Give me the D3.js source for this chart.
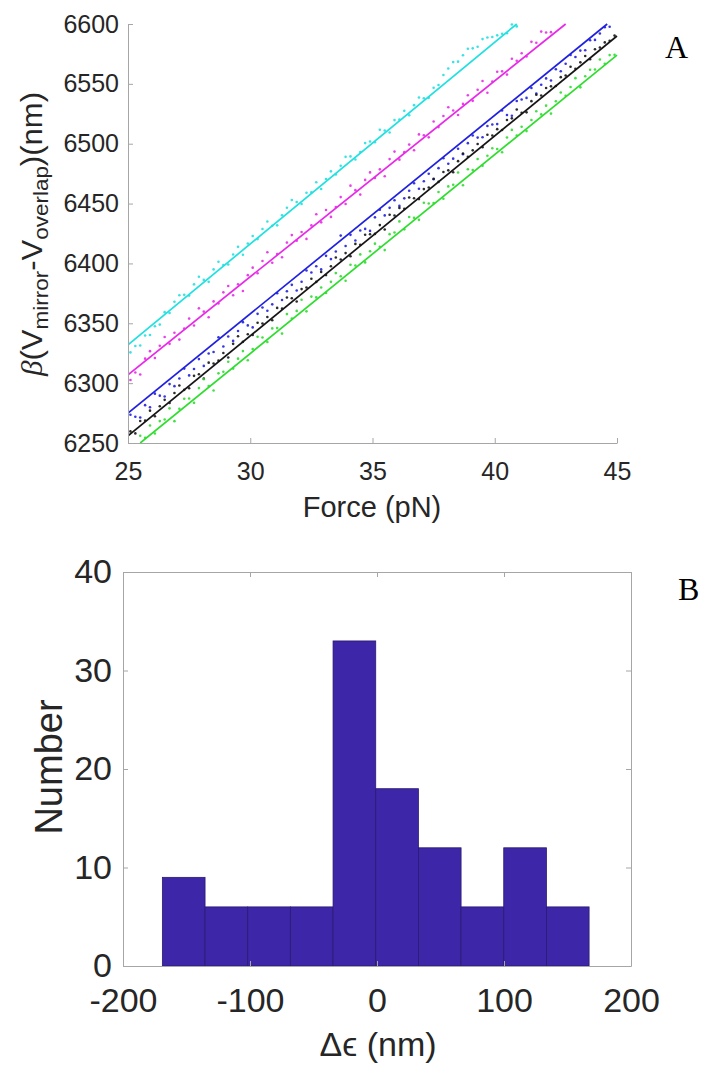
<!DOCTYPE html>
<html>
<head>
<meta charset="utf-8">
<script src="https://cdn.jsdelivr.net/npm/d3@7"></script>
<style>
  body { margin: 0; background: #fff; }
  svg { display: block; }
  .axis text { fill: #262626; font-family: "Liberation Sans", Arial, sans-serif; }
  .axis path, .axis line { stroke: #a6a6a6; }
</style>
</head>
<body>
<svg id="fig" width="703" height="1067"></svg>
<script>
(function() {

  // ---- Panel A: fitted lines with readings ----

  // Series names and colours.
  var seriesNames = ["cyan", "magenta", "blue", "black", "green"];
  var seriesColours = ["#22e0e0", "#e82ae8", "#2020e0", "#151515", "#2edd2e"];

  // Fitted line end points, [force, value].
  var fitStart = [[25, 6332], [25, 6307], [25, 6275], [25, 6256], [25.5, 6250]];
  var fitEnd   = [[40.9, 6600], [42.9, 6600], [44.6, 6600], [45, 6590], [45, 6574]];

  // Force of each reading (pN).
  var forces = [
    25.1, 25.3, 25.5, 25.7, 25.9, 26.1, 26.3, 26.5, 26.7, 26.9,
    27.1, 27.3, 27.5, 27.7, 27.9, 28.1, 28.3, 28.5, 28.7, 28.9,
    29.1, 29.3, 29.5, 29.7, 29.9, 30.1, 30.3, 30.5, 30.7, 30.9,
    31.1, 31.3, 31.5, 31.7, 31.9, 32.1, 32.3, 32.5, 32.7, 32.9,
    33.1, 33.3, 33.5, 33.7, 33.9, 34.1, 34.3, 34.5, 34.7, 34.9,
    35.1, 35.3, 35.5, 35.7, 35.9, 36.1, 36.3, 36.5, 36.7, 36.9,
    37.1, 37.3, 37.5, 37.7, 37.9, 38.1, 38.3, 38.5, 38.7, 38.9,
    39.1, 39.3, 39.5, 39.7, 39.9, 40.1, 40.3, 40.5, 40.7, 40.9,
    41.1, 41.3, 41.5, 41.7, 41.9, 42.1, 42.3, 42.5, 42.7, 42.9,
    43.1, 43.3, 43.5, 43.7, 43.9, 44.1, 44.3, 44.5, 44.7, 44.9
  ];

  // Offset of each reading from its fitted line (nm).
  var offCyan = [
    -8, -6, -9, -4, -7, -3, -5, 2, -2, 4,
    6, 3, -1, 5, 8, 2, -3, 4, 7, 1,
    -2, 3, 6, -4, 2, 5, -1, 4, 7, 0,
    -3, 2, 5, 8, 3, -2, 4, 1, 6, -3,
    2, 5, -1, 3, 7, 4, -2, 1, 5, 3,
    -1, 6, 2, -3, 4, 1, 5, -2, 3, 6,
    2, -1, 4, 3, 8, 10, 12, 9, 11, 13,
    10, 8, 11, 9, 6, 4, 2, -1, 3, -2,
    0, -3
  ];
  var offMagenta = [
    -6, -3, -8, 2, 5, -4, 3, 7, -2, 4,
    -5, 1, 6, -3, 8, 2, -6, 4, -1, 5,
    7, -4, 2, -7, 3, 6, -2, 5, 9, -3,
    1, -5, 4, 7, -1, 3, -6, 2, 8, -2,
    5, -4, 1, 6, -3, 9, 2, -5, 4, 7,
    -1, 3, -6, 5, 8, -2, 1, 4, -4, 6,
    2, -3, 7, -1, 5, 9, 3, -4, 2, 6,
    -2, 4, 8, -5, 1, 6, 3, -3, 7, 2,
    5, -1, 8, 4, 10, 6, 3, 9, 7, 5,
    4, 8, 6
  ];
  var offBlue = [
    -3, -8, -12, -5, -10, -2, -7, -11, -4, -9,
    -6, -1, -10, -8, -3, -12, -5, -7, 2, -9,
    -4, -11, -6, -2, -8, -13, -5, -3, -9, -7,
    -1, -10, -6, -4, -12, -8, -2, -7, -5, -11,
    -3, -9, -6, 4, -8, -2, -10, -5, -7, -12,
    -4, -1, -9, -6, -3, -11, -8, -5, -2, -10,
    -7, -4, -12, -6, -1, -9, -8, -3, -11, -5,
    -2, -7, -10, -4, -6, -9, -1, -8, -12, -3,
    -5, -7, -2, -10, -6, -4, -9, -3, -8, -5,
    -1, -6, -4, -7, -2, -5, -3, -1, -4, -2
  ];
  var offBlack = [
    2, -3, 4, 1, 6, -2, 3, 5, -1, 4,
    7, 0, -2, 5, 3, -4, 6, 2, 1, 4,
    -3, 5, 8, 0, 3, -1, 6, 2, 4, -2,
    5, 1, 7, 3, -3, 4, 2, 6, 0, 5,
    -1, 3, 7, 2, 4, -2, 5, 1, 6, 3,
    0, 4, -3, 6, 2, 5, 1, 7, 3, -1,
    4, 2, 6, 0, 5, 3, -2, 4, 7, 1,
    3, 5, -1, 6, 2, 4, 0, 5, 3, 7,
    1, -2, 4, 6, 2, 5, 3, 0, 4, 2,
    6, 1, 3, 5, -1, 4, 2, 3, 1, 2
  ];
  var offGreen = [
    3, -4, 6, 1, 8, -2, 5, 3, 9, -5,
    2, 7, 4, -3, 6, 10, 1, -6, 5, 3,
    8, -1, 4, 7, -4, 2, 9, 5, -2, 6,
    3, -5, 8, 1, 4, 10, -3, 6, 2, 7,
    -1, 5, 9, 3, -4, 6, 2, 8, -2, 4,
    7, 1, -5, 5, 3, 9, -1, 6, 2, -3,
    8, 4, 1, 7, -2, 5, 3, 10, -4, 6,
    2, 8, -1, 4, 7, 3, -3, 6, 9, 1,
    5, -2, 4, 8, 2, 6, -4, 3, 7, 1,
    5, 9, -2, 4, 6, 3, 8, 1, 5, 2
  ];
  var offsets = [offCyan, offMagenta, offBlue, offBlack, offGreen];

  // Axis ticks.
  var forceTicks = [25, 30, 35, 40, 45];
  var valueTicks = [6250, 6300, 6350, 6400, 6450, 6500, 6550, 6600];

  // ---- Panel B: histogram ----
  var binEdges = [-169, -135.4, -101.8, -68.2, -34.6, -1, 32.6, 66.2, 99.8, 133.4, 167];
  var counts = [9, 6, 6, 6, 33, 18, 12, 6, 12, 6];
  var deltaTicks = [-200, -100, 0, 100, 200];
  var countTicks = [0, 10, 20, 30, 40];

  var svg = d3.select("#fig");
  var sans = "'Liberation Sans', Arial, sans-serif";
  var serif = "'Liberation Serif', 'Times New Roman', serif";
  var plain = function(d) { return String(d); };

  // Panel A scales.
  var xA = d3.scaleLinear().domain([25, 45]).range([128, 617]);
  var yA = d3.scaleLinear().domain([6250, 6600]).range([443, 24]);

  svg.append("clipPath").attr("id", "clipA")
    .append("rect")
    .attr("x", xA(25)).attr("y", yA(6600) - 1)
    .attr("width", xA(45) - xA(25) + 3).attr("height", yA(6250) - yA(6600) + 1);

  var plotA = svg.append("g").attr("clip-path", "url(#clipA)");

  seriesNames.forEach(function(name, i) {
    var fit = d3.scaleLinear()
      .domain([fitStart[i][0], fitEnd[i][0]])
      .range([fitStart[i][1], fitEnd[i][1]]);

    var pts = offsets[i].map(function(o, k) {
      return { f: forces[k], v: fit(forces[k]) + o };
    });

    plotA.selectAll(".dot-" + name)
      .data(pts)
      .enter()
      .append("circle")
      .attr("class", "dot-" + name)
      .attr("cx", function(d) { return xA(d.f); })
      .attr("cy", function(d) { return yA(d.v); })
      .attr("r", 1.3)
      .attr("fill", seriesColours[i])
      .attr("opacity", 0.9);

    plotA.append("line")
      .attr("x1", xA(fitStart[i][0])).attr("y1", yA(fitStart[i][1]))
      .attr("x2", xA(fitEnd[i][0])).attr("y2", yA(fitEnd[i][1]))
      .attr("stroke", seriesColours[i])
      .attr("stroke-width", 1.7);
  });

  svg.append("g")
    .attr("class", "axis")
    .attr("transform", "translate(0," + yA(6250) + ")")
    .call(d3.axisBottom(xA).tickValues(forceTicks).tickFormat(plain)
      .tickSizeInner(-5).tickSizeOuter(0).tickPadding(19))
    .call(function(g) { g.selectAll("text").attr("font-size", 25); });

  svg.append("g")
    .attr("class", "axis")
    .attr("transform", "translate(" + xA(25) + ",0)")
    .call(d3.axisLeft(yA).tickValues(valueTicks).tickFormat(plain)
      .tickSizeInner(-5).tickSizeOuter(0).tickPadding(9))
    .call(function(g) { g.selectAll("text").attr("font-size", 25); });

  svg.append("text")
    .attr("x", 372).attr("y", 517)
    .attr("text-anchor", "middle")
    .attr("font-family", sans).attr("font-size", 29).attr("fill", "#262626")
    .text("Force (pN)");

  // Rotated y label, squeezed along its length as in the figure.
  var ylab = svg.append("text")
    .attr("transform", "translate(42,234) rotate(-90)")
    .attr("text-anchor", "middle")
    .attr("textLength", 284)
    .attr("lengthAdjust", "spacingAndGlyphs")
    .attr("font-family", sans).attr("font-size", 29).attr("fill", "#262626");
  ylab.append("tspan").attr("font-family", serif).attr("font-style", "italic").text("β");
  ylab.append("tspan").text("(V");
  ylab.append("tspan").attr("font-size", 21).attr("dy", 6).text("mirror");
  ylab.append("tspan").attr("dy", -6).text("-V");
  ylab.append("tspan").attr("font-size", 21).attr("dy", 6).text("overlap");
  ylab.append("tspan").attr("dy", -6).text(")(nm)");

  svg.append("text")
    .attr("x", 665).attr("y", 58)
    .attr("font-family", serif).attr("font-size", 32).attr("fill", "#000")
    .text("A");

  // Panel B scales.
  var xB = d3.scaleLinear().domain([-200, 200]).range([123, 631]);
  var yB = d3.scaleLinear().domain([0, 40]).range([966, 572]);

  var bins = counts.map(function(c, i) {
    return { x0: binEdges[i], x1: binEdges[i + 1], n: c };
  });

  svg.append("g").selectAll("rect")
    .data(bins)
    .enter()
    .append("rect")
    .attr("x", function(d) { return xB(d.x0); })
    .attr("y", function(d) { return yB(d.n); })
    .attr("width", function(d) { return xB(d.x1) - xB(d.x0); })
    .attr("height", function(d) { return yB(0) - yB(d.n); })
    .attr("fill", "#3e26a8")
    .attr("stroke", "#2a1a70")
    .attr("stroke-width", 0.8);

  svg.append("g")
    .attr("class", "axis")
    .attr("transform", "translate(0," + yB(0) + ")")
    .call(d3.axisBottom(xB).tickValues(deltaTicks).tickFormat(plain)
      .tickSizeInner(-5).tickSizeOuter(0).tickPadding(22))
    .call(function(g) { g.selectAll("text").attr("font-size", 34); });

  svg.append("g")
    .attr("class", "axis")
    .attr("transform", "translate(0," + yB(40) + ")")
    .call(d3.axisTop(xB).tickValues(deltaTicks).tickSizeInner(-5).tickSizeOuter(0).tickFormat(""));

  svg.append("g")
    .attr("class", "axis")
    .attr("transform", "translate(" + xB(-200) + ",0)")
    .call(d3.axisLeft(yB).tickValues(countTicks).tickFormat(plain)
      .tickSizeInner(-5).tickSizeOuter(0).tickPadding(11))
    .call(function(g) { g.selectAll("text").attr("font-size", 34); });

  svg.append("g")
    .attr("class", "axis")
    .attr("transform", "translate(" + xB(200) + ",0)")
    .call(d3.axisRight(yB).tickValues(countTicks).tickSizeInner(-5).tickSizeOuter(0).tickFormat(""));

  svg.append("text")
    .attr("transform", "translate(62,767) rotate(-90)")
    .attr("text-anchor", "middle")
    .attr("font-family", sans).attr("font-size", 38).attr("fill", "#262626")
    .text("Number");

  svg.append("text")
    .attr("x", 378).attr("y", 1056)
    .attr("text-anchor", "middle")
    .attr("font-family", sans).attr("font-size", 34).attr("fill", "#262626")
    .text("Δϵ (nm)");

  svg.append("text")
    .attr("x", 678).attr("y", 600)
    .attr("font-family", serif).attr("font-size", 32).attr("fill", "#000")
    .text("B");

})();
</script>
</body>
</html>
